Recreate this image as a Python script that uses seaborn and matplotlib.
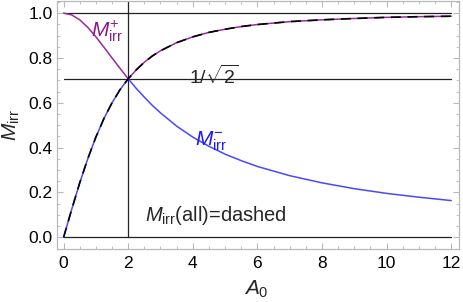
import numpy as np
import pandas as pd
import seaborn as sns
import matplotlib.pyplot as plt
from matplotlib.ticker import MultipleLocator

# values
a0 = [0, 0.25, 0.5, 0.75, 1, 1.25, 1.5, 1.75, 2, 2.25, 2.5, 2.75, 3, 3.5, 4,
      4.5, 5, 5.5, 6, 7, 8, 9, 10, 11, 12]
m_plus = [1.0, 0.992, 0.970, 0.936, 0.894, 0.848, 0.800, 0.753, 0.707, 0.747,
          0.781, 0.809, 0.832, 0.868, 0.894, 0.914, 0.928, 0.940, 0.949, 0.962,
          0.970, 0.976, 0.981, 0.984, 0.986]
m_minus = [0.0, 0.124, 0.243, 0.351, 0.447, 0.530, 0.600, 0.659, 0.707, 0.664,
           0.625, 0.588, 0.555, 0.496, 0.447, 0.406, 0.371, 0.342, 0.316, 0.275,
           0.243, 0.217, 0.196, 0.179, 0.164]
m_all = [0.0, 0.124, 0.243, 0.351, 0.447, 0.530, 0.600, 0.659, 0.707, 0.747,
         0.781, 0.809, 0.832, 0.868, 0.894, 0.914, 0.928, 0.940, 0.949, 0.962,
         0.970, 0.976, 0.981, 0.984, 0.986]
h_lines = [0.0, 1 / np.sqrt(2), 1.0]
v_line = 2

df = pd.DataFrame({"A0": a0, "plus": m_plus, "minus": m_minus, "all": m_all})

sns.set_style("ticks")
plt.rcParams['font.family'] = ['Liberation Sans', 'DejaVu Sans']
plt.rcParams['mathtext.fontset'] = 'custom'
plt.rcParams['mathtext.rm'] = 'Liberation Sans'
plt.rcParams['mathtext.it'] = 'Liberation Sans:italic'

purple = "#9a2a9a"
blue = "#4848ff"
frame = "#b8b8b8"

fig = plt.figure(figsize=(4.63, 3.02), dpi=100)
ax = fig.add_axes([0.1231, 0.1755, 0.8672, 0.8225])

# reference lines
for h in h_lines:
    ax.plot([0, 12], [h, h], color="#222222", lw=0.9, zorder=1)
ax.plot([v_line, v_line], [0, 1.06], color="#222222", lw=0.9, zorder=1)

sns.lineplot(data=df, x="A0", y="plus", color=purple, lw=1.1, ax=ax, zorder=2)
sns.lineplot(data=df, x="A0", y="minus", color=blue, lw=1.1, ax=ax, zorder=2)
sns.lineplot(data=df, x="A0", y="all", color="black", lw=1.2, ax=ax, zorder=3,
             dashes=False, linestyle=(0, (6, 4)))

ax.set_xlim(-0.204, 12.226)
ax.set_ylim(-0.052, 1.0557)
ax.xaxis.set_major_locator(MultipleLocator(2))
ax.xaxis.set_minor_locator(MultipleLocator(0.5))
ax.yaxis.set_major_locator(MultipleLocator(0.2))
ax.yaxis.set_minor_locator(MultipleLocator(0.05))
ax.set_xticks([0, 2, 4, 6, 8, 10, 12])
ax.set_xticklabels(["0", "2", "4", "6", "8", "10", "12"])
ax.set_yticks([0, 0.2, 0.4, 0.6, 0.8, 1.0])
ax.set_yticklabels(["0.0", "0.2", "0.4", "0.6", "0.8", "1.0"])

for s in ax.spines.values():
    s.set_visible(True)
    s.set_color(frame)
    s.set_linewidth(0.9)
ax.tick_params(which="both", direction="in", color=frame, top=True, right=True,
               labelsize=12.5, labelcolor="black")
ax.tick_params(which="major", length=4, width=0.8)
ax.tick_params(which="minor", length=2.2, width=0.6)
ax.tick_params(axis="y", pad=3)
ax.tick_params(axis="x", pad=5)

ax.set_xlabel("$A_0$", fontsize=15)
ax.set_ylabel(r"$M_{\mathrm{irr}}$", fontsize=15)
ax.xaxis.set_label_coords(0.496, -0.12)
ax.yaxis.set_label_coords(-0.088, 0.5)

ax.text(0.84, 0.895, r"$M_{\mathrm{irr}}^{+}$", color="#8b1a8b", fontsize=15)
ax.text(4.07, 0.41, r"$M_{\mathrm{irr}}^{-}$", color="#1a1aff", fontsize=15)
ax.text(4.66, 0.72, r"$1/\sqrt{2}$", fontsize=14, ha="center", va="center")
ax.text(2.52, 0.074, r"$M_{\mathrm{irr}}$(all)=dashed", fontsize=14.5)

fig.savefig("out.png", dpi=100)
